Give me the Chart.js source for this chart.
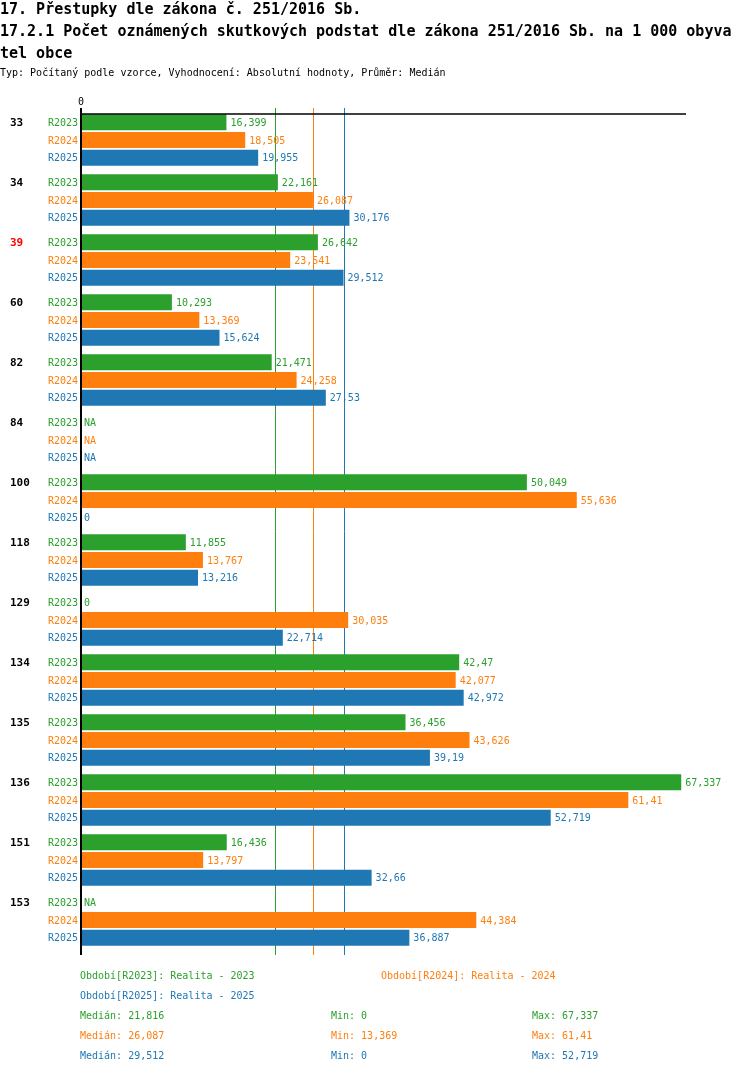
<!DOCTYPE html>
<html>
<head>
<meta charset="utf-8">
<script src="https://cdn.jsdelivr.net/npm/chart.js@4/dist/chart.umd.min.js"></script>
<style>
  html, body { margin: 0; padding: 0; background: #fff; }
  #wrap { position: relative; width: 750px; height: 1074px; overflow: hidden; }
  #chartBox { position: absolute; left: 0; top: 0; width: 750px; height: 1074px; }
  .t { position: absolute; white-space: pre; font-family: "DejaVu Sans Mono", monospace; color: #000; }
  .h { font-size: 15px; font-weight: bold; line-height: 22px; left: 0; }
  .s { font-size: 10px; line-height: 14px; }
</style>
</head>
<body>
<div id="wrap">
  <div id="chartBox"><canvas id="c"></canvas></div>
  <div class="t h" style="top:-2px">17. Přestupky dle zákona č. 251/2016 Sb.</div>
  <div class="t h" style="top:20px">17.2.1 Počet oznámených skutkových podstat dle zákona 251/2016 Sb. na 1 000 obyva</div>
  <div class="t h" style="top:42px">tel obce</div>
  <div class="t s" style="top:66px;left:0">Typ: Počítaný podle vzorce, Vyhodnocení: Absolutní hodnoty, Průměr: Medián</div>
  <div id="footer"></div>
</div>
<script>
// ---- data ----
const categories = ['33','34','39','60','82','84','100','118','129','134','135','136','151','153'];
const highlighted = ['39'];
const seriesLabels = ['R2023','R2024','R2025'];
const periodNames = ['Realita - 2023','Realita - 2024','Realita - 2025'];
const r2023 = [16.399, 22.161, 26.642, 10.293, 21.471, null, 50.049, 11.855, 0, 42.47, 36.456, 67.337, 16.436, null];
const r2024 = [18.505, 26.087, 23.541, 13.369, 24.258, null, 55.636, 13.767, 30.035, 42.077, 43.626, 61.41, 13.797, 44.384];
const r2025 = [19.955, 30.176, 29.512, 15.624, 27.53, null, 0, 13.216, 22.714, 42.972, 39.19, 52.719, 32.66, 36.887];
const medians = [21.816, 26.087, 29.512];
const mins = [0, 13.369, 0];
const maxs = [67.337, 61.41, 52.719];
const xTicks = [0];
const xMax = 67.87;
const colors = ['#2ca02c', '#ff7f0e', '#1f77b4'];

const fmt = v => (v === null || v === undefined) ? 'NA' : String(v).replace('.', ',');
const FONT = '"DejaVu Sans Mono", monospace';
const CAT_PCT = 0.89, BAR_PCT = 0.9;

// footer
const footer = document.getElementById('footer');
function addText(txt, left, top, color) {
  const d = document.createElement('div');
  d.className = 't s';
  d.style.left = left + 'px'; d.style.top = top + 'px'; d.style.color = color;
  d.textContent = txt;
  footer.appendChild(d);
}
addText('Období[' + seriesLabels[0] + ']: ' + periodNames[0], 80, 969, colors[0]);
addText('Období[' + seriesLabels[1] + ']: ' + periodNames[1], 381, 969, colors[1]);
addText('Období[' + seriesLabels[2] + ']: ' + periodNames[2], 80, 989, colors[2]);
for (let i = 0; i < 3; i++) {
  const top = 1009 + i * 20;
  addText('Medián: ' + fmt(medians[i]), 80, top, colors[i]);
  addText('Min: ' + fmt(mins[i]), 331, top, colors[i]);
  addText('Max: ' + fmt(maxs[i]), 532, top, colors[i]);
}

const series = [r2023, r2024, r2025];

function rowY(yScale, i, d) {
  const p0 = yScale.getPixelForValue(0), p1 = yScale.getPixelForValue(1);
  const step = (p1 - p0) * CAT_PCT / 3;
  return yScale.getPixelForValue(i) + (d - 1) * step;
}

const decor = {
  id: 'decor',
  beforeDatasetsDraw(chart) {
    const ctx = chart.ctx, xs = chart.scales.x, area = chart.chartArea;
    ctx.save();
    medians.forEach((m, k) => {
      const x = Math.round(xs.getPixelForValue(m)) + 0.5;
      ctx.strokeStyle = colors[k];
      ctx.lineWidth = 1;
      ctx.beginPath(); ctx.moveTo(x, 108); ctx.lineTo(x, area.bottom + 5); ctx.stroke();
    });
    ctx.restore();
  },
  afterDatasetsDraw(chart) {
    const ctx = chart.ctx, xs = chart.scales.x, ys = chart.scales.y, area = chart.chartArea;
    const x0 = xs.getPixelForValue(0);
    ctx.save();
    // top line
    ctx.strokeStyle = '#000';
    ctx.lineWidth = 1.5;
    ctx.beginPath(); ctx.moveTo(x0, 114); ctx.lineTo(area.right, 114); ctx.stroke();
    // left axis
    ctx.lineWidth = 2;
    ctx.beginPath(); ctx.moveTo(x0 + 1, 108); ctx.lineTo(x0 + 1, area.bottom + 5); ctx.stroke();
    // tick labels
    ctx.fillStyle = '#000';
    ctx.font = '10px ' + FONT;
    ctx.textAlign = 'center'; ctx.textBaseline = 'middle';
    xTicks.forEach(t => ctx.fillText(String(t), xs.getPixelForValue(t) + 1, 102));
    // labels
    categories.forEach((cat, i) => {
      const yTop = rowY(ys, i, 0);
      ctx.font = 'bold 11px ' + FONT;
      ctx.textAlign = 'left';
      ctx.fillStyle = highlighted.includes(cat) ? '#ff0000' : '#000';
      ctx.fillText(cat, 10, yTop + 1);
      series.forEach((arr, d) => {
        const y = rowY(ys, i, d);
        ctx.font = '10px ' + FONT;
        ctx.fillStyle = colors[d];
        ctx.textAlign = 'right';
        ctx.fillText(seriesLabels[d], 78, y + 1);
        ctx.textAlign = 'left';
        const v = arr[i];
        const xe = (v === null || v === 0) ? x0 : xs.getPixelForValue(v);
        ctx.fillText(fmt(v), xe + 4, y + 1);
      });
    });
    ctx.restore();
  }
};

new Chart(document.getElementById('c'), {
  type: 'bar',
  data: {
    labels: categories,
    datasets: series.map((arr, d) => ({
      label: seriesLabels[d],
      data: arr,
      backgroundColor: colors[d],
      borderWidth: 0,
      categoryPercentage: CAT_PCT,
      barPercentage: BAR_PCT
    }))
  },
  options: {
    indexAxis: 'y',
    responsive: true,
    maintainAspectRatio: false,
    animation: false,
    events: [],
    layout: { padding: { left: 80, right: 64, top: 110, bottom: 124 } },
    plugins: { legend: { display: false }, tooltip: { enabled: false }, title: { display: false } },
    scales: {
      x: { display: false, min: 0, max: xMax },
      y: { display: false }
    }
  },
  plugins: [decor]
});
</script>
</body>
</html>
